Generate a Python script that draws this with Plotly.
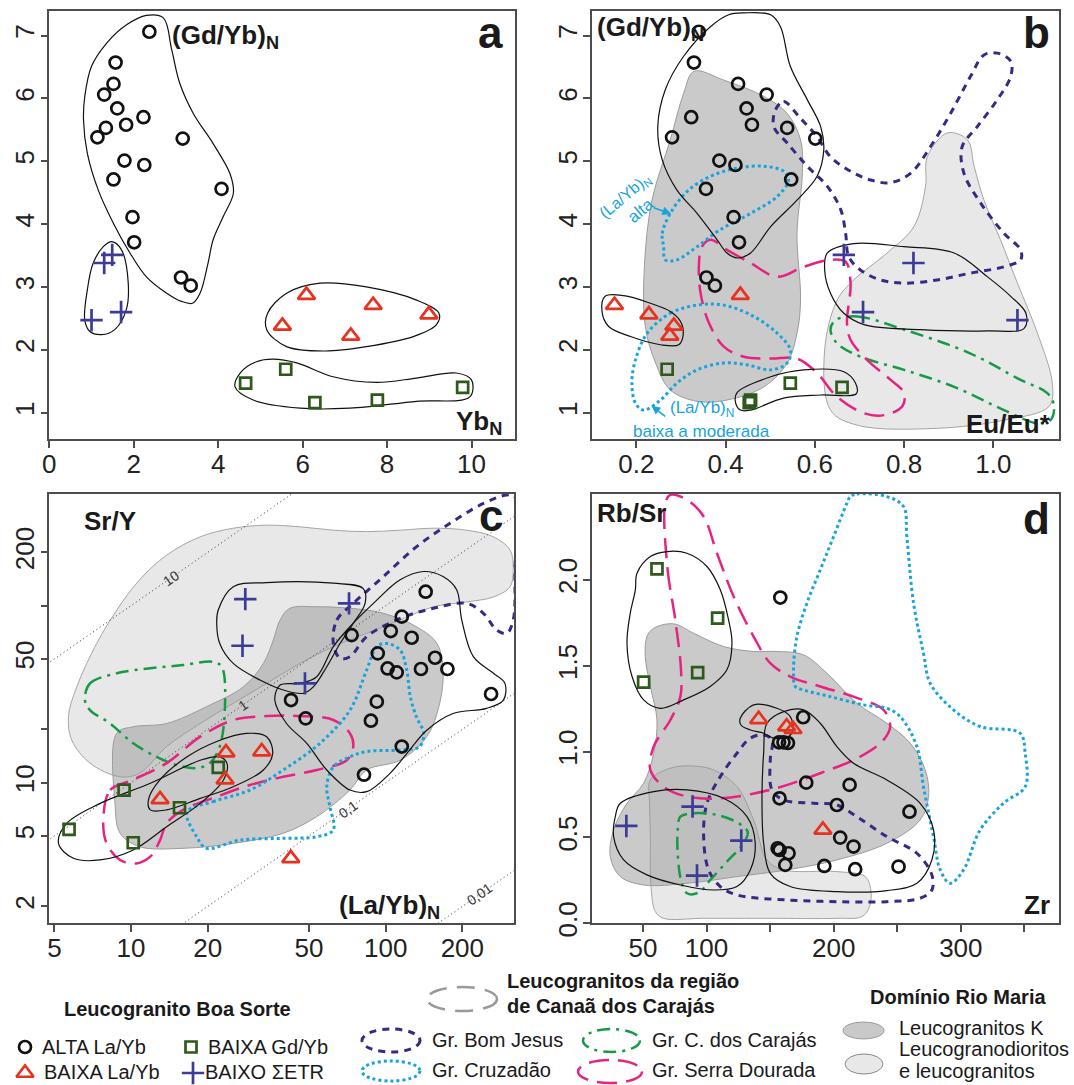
import math
import plotly.graph_objects as go

W, H = 1074, 1085
FONT = "Liberation Sans, Arial, sans-serif"

# ---------------- sample data ----------------
# (Gd/Yb)N, shared by panels a and b
GDYB_ALTA = [7.06, 6.57, 6.23, 6.06, 5.84, 5.70, 5.58, 5.53, 5.38, 5.36, 5.01, 4.94, 4.71, 4.56, 4.11, 3.71, 3.15, 3.02]
GDYB_LAYB = [2.87, 2.71, 2.56, 2.38, 2.22]
GDYB_ETR = [3.38, 3.51, 2.47, 2.60]
GDYB_GDYB = [1.47, 1.69, 1.16, 1.20, 1.40]

# panel a: YbN
YBN_ALTA = [2.37, 1.57, 1.52, 1.30, 1.61, 2.23, 1.82, 1.34, 1.14, 3.16, 1.78, 2.25, 1.52, 4.08, 1.97, 2.01, 3.12, 3.35]
YBN_LAYB = [6.09, 7.67, 8.99, 5.52, 7.14]
YBN_ETR = [1.30, 1.49, 1.00, 1.70]
YBN_GDYB = [4.65, 5.60, 6.29, 7.77, 9.79]

# panel b: Eu/Eu*
EU_ALTA = [0.340, 0.329, 0.428, 0.492, 0.447, 0.323, 0.459, 0.538, 0.280, 0.601, 0.386, 0.422, 0.547, 0.356, 0.418, 0.430, 0.357, 0.376]
EU_LAYB = [0.433, 0.151, 0.228, 0.284, 0.275]
EU_ETR = [0.821, 0.665, 1.054, 0.708]
EU_GDYB = [0.545, 0.269, 0.453, 0.456, 0.661]

# panel c: (La/Yb)N vs Sr/Y
LAYB_ALTA = [143.6, 115.7, 104.7, 126.5, 73.5, 93.1, 156.3, 101.8, 110.5, 137.6, 174.8, 259.4, 42.5, 92.3, 48.5, 87.5, 115.7, 82.2]
SRY_ALTA = [120, 86.7, 71.9, 65.9, 68.2, 53.8, 50.8, 44.2, 42.0, 43.9, 43.9, 31.7, 29.3, 28.7, 23.1, 22.4, 16.0, 11.1]
LAYB_LAYB = [23.6, 32.6, 23.4, 13.0, 42.4]
SRY_LAYB = [14.8, 15.0, 10.4, 8.05, 3.74]
LAYB_ETR = [28.1, 71.8, 27.4, 48.2]
SRY_ETR = [108.9, 103, 59.4, 36.4]
LAYB_GDYB = [5.71, 9.39, 10.2, 15.5, 22.0]
SRY_GDYB = [5.45, 9.09, 4.58, 7.22, 12.2]
RATIO_LINES = [10, 1, 0.1, 0.01]
RATIO_LABELS = ["10", "1", "0,1", "0,01"]
RATIO_LABEL_X = [14.4, 27.6, 71.3, 234]

# panel d: Zr vs Rb/Sr
ZR_ALTA = [158.0, 176.0, 157.0, 160.5, 164.0, 178.4, 212.5, 157.4, 202.5, 259.6, 205.1, 215.6, 155.9, 157.4, 164.5, 161.9, 192.6, 216.9, 251.0]
RBSR_ALTA = [1.897, 1.20, 1.054, 1.054, 1.05, 0.819, 0.806, 0.728, 0.689, 0.650, 0.499, 0.447, 0.437, 0.427, 0.408, 0.340, 0.334, 0.315, 0.330]
ZR_LAYB = [141.0, 163.0, 168.0, 191.5]
RBSR_LAYB = [1.188, 1.145, 1.130, 0.544]
ZR_ETR = [36.9, 89.0, 127.3, 92.5]
RBSR_ETR = [0.567, 0.680, 0.482, 0.278]
ZR_GDYB = [61.0, 108.7, 93.0, 50.5]
RBSR_GDYB = [2.064, 1.777, 1.460, 1.404]

# ---------------- field outlines (data units) ----------------
A_ENV_ALTA = [(2.30, 7.32), (2.70, 7.28), (2.90, 6.77), (3.09, 6.24), (3.41, 5.76), (3.88, 5.28), (4.28, 4.80), (4.36, 4.49), (4.12, 4.12), (3.88, 3.75), (3.76, 3.38), (3.57, 2.90), (3.39, 2.74), (3.13, 2.77), (2.78, 2.90), (2.30, 3.16), (1.91, 3.54), (1.52, 4.01), (1.16, 4.54), (0.90, 5.13), (0.81, 5.66), (0.84, 6.03), (1.00, 6.51), (1.36, 6.88), (1.83, 7.17)]
A_ENV_ETR = [(1.48, 3.72), (1.71, 3.59), (1.87, 3.06), (1.82, 2.63), (1.55, 2.32), (1.24, 2.24), (0.96, 2.29), (0.84, 2.47), (0.90, 2.95), (1.04, 3.38), (1.28, 3.64)]
A_ENV_LAYB = [(6.41, 3.06), (7.51, 3.00), (8.70, 2.79), (9.23, 2.58), (9.17, 2.40), (8.62, 2.21), (7.51, 2.05), (6.53, 1.98), (5.62, 2.05), (5.15, 2.32), (5.17, 2.58), (5.62, 2.90)]
A_ENV_GDYB = [(5.30, 1.85), (5.86, 1.79), (6.72, 1.57), (7.75, 1.48), (8.70, 1.55), (9.64, 1.63), (10.00, 1.52), (9.96, 1.25), (8.70, 1.18), (7.12, 1.07), (5.94, 1.07), (4.83, 1.20), (4.40, 1.41), (4.52, 1.63), (4.91, 1.81)]

B_K = [(0.329, 6.43), (0.396, 6.29), (0.486, 6.03), (0.538, 5.76), (0.568, 5.34), (0.572, 4.81), (0.560, 3.85), (0.568, 2.79), (0.560, 2.26), (0.538, 1.79), (0.486, 1.41), (0.403, 1.20), (0.336, 1.18), (0.276, 1.36), (0.243, 1.79), (0.220, 2.37), (0.218, 3.32), (0.235, 4.38), (0.276, 5.34), (0.306, 6.08)]
B_LGD = [(0.852, 5.07), (0.897, 5.45), (0.942, 5.34), (0.957, 4.92), (0.979, 4.38), (1.016, 3.75), (1.054, 3.06), (1.099, 2.26), (1.132, 1.47), (1.125, 1.10), (1.024, 0.88), (0.874, 0.75), (0.695, 0.80), (0.635, 1.04), (0.622, 2.00), (0.650, 2.79), (0.687, 3.11), (0.762, 3.54), (0.822, 3.96), (0.848, 4.60)]
B_ENV_ALTA = [(0.441, 7.36), (0.501, 7.33), (0.523, 7.14), (0.545, 6.51), (0.583, 5.98), (0.613, 5.55), (0.620, 5.18), (0.605, 4.76), (0.560, 4.38), (0.501, 3.96), (0.456, 3.54), (0.426, 3.46), (0.403, 3.54), (0.381, 3.75), (0.336, 4.17), (0.291, 4.54), (0.258, 5.02), (0.248, 5.55), (0.265, 6.14), (0.306, 6.67), (0.366, 7.14), (0.407, 7.33)]
B_ENV_LAYB = [(0.130, 2.85), (0.172, 2.86), (0.231, 2.74), (0.276, 2.61), (0.299, 2.45), (0.305, 2.24), (0.295, 2.08), (0.254, 2.08), (0.187, 2.21), (0.138, 2.37), (0.123, 2.61)]
B_ENV_ETR = [(0.628, 3.54), (0.687, 3.69), (0.800, 3.64), (0.912, 3.54), (0.987, 3.16), (1.039, 2.85), (1.073, 2.58), (1.069, 2.34), (0.987, 2.30), (0.837, 2.32), (0.710, 2.40), (0.665, 2.58), (0.635, 2.90), (0.622, 3.27)]
B_ENV_GDYB = [(0.426, 1.32), (0.501, 1.57), (0.575, 1.68), (0.665, 1.65), (0.691, 1.47), (0.693, 1.30), (0.613, 1.28), (0.530, 1.23), (0.456, 1.04), (0.433, 1.04), (0.422, 1.17)]
B_BJ = [(0.512, 5.82), (0.530, 5.95), (0.568, 5.68), (0.605, 5.39), (0.635, 5.07), (0.680, 4.84), (0.725, 4.70), (0.770, 4.66), (0.815, 4.81), (0.859, 5.23), (0.904, 5.76), (0.949, 6.35), (0.979, 6.69), (1.009, 6.72), (1.039, 6.59), (1.039, 6.35), (1.009, 5.98), (0.964, 5.55), (0.930, 5.23), (0.934, 4.81), (0.972, 4.33), (1.024, 3.85), (1.061, 3.59), (1.061, 3.43), (1.024, 3.32), (0.949, 3.22), (0.874, 3.11), (0.800, 3.06), (0.747, 3.11), (0.702, 3.27), (0.676, 3.48), (0.669, 3.85), (0.658, 4.23), (0.628, 4.60), (0.583, 4.92), (0.538, 5.29), (0.508, 5.55)]
B_CRZ_ALTA = [(0.261, 3.64), (0.258, 3.85), (0.276, 4.17), (0.314, 4.52), (0.366, 4.76), (0.426, 4.89), (0.486, 4.92), (0.530, 4.84), (0.541, 4.70), (0.516, 4.44), (0.456, 4.17), (0.388, 3.91), (0.336, 3.64), (0.291, 3.43), (0.265, 3.43)]
B_CRZ_BAIXA = [(0.224, 2.26), (0.276, 2.58), (0.336, 2.71), (0.396, 2.71), (0.463, 2.53), (0.516, 2.26), (0.545, 2.00), (0.538, 1.79), (0.501, 1.68), (0.448, 1.76), (0.396, 1.79), (0.336, 1.68), (0.291, 1.47), (0.254, 1.20), (0.216, 1.04), (0.198, 1.15), (0.190, 1.47), (0.198, 1.84)]
B_SD = [(0.366, 3.75), (0.403, 3.59), (0.456, 3.38), (0.516, 3.16), (0.575, 3.32), (0.635, 3.43), (0.669, 3.40), (0.680, 3.06), (0.672, 2.42), (0.680, 2.16), (0.717, 1.84), (0.770, 1.52), (0.800, 1.31), (0.796, 1.10), (0.755, 0.96), (0.710, 0.99), (0.650, 1.25), (0.605, 1.63), (0.560, 1.86), (0.501, 1.86), (0.441, 1.89), (0.396, 2.05), (0.363, 2.42), (0.344, 2.90), (0.340, 3.32), (0.347, 3.64)]
B_CC = [(0.646, 2.47), (0.695, 2.53), (0.800, 2.32), (0.949, 1.94), (1.061, 1.52), (1.121, 1.31), (1.136, 1.10), (1.128, 0.88), (1.099, 0.83), (1.024, 1.04), (0.912, 1.41), (0.800, 1.68), (0.702, 1.89), (0.650, 2.10), (0.635, 2.32)]

C_LGD = [(5.68, 23.6), (6.12, 34.8), (7.33, 61.2), (8.79, 94.5), (10.8, 140), (13.8, 193), (18.7, 245), (25.2, 274), (34.1, 285), (46.1, 279), (62.3, 267), (84.2, 262), (114, 267), (154, 274), (208, 267), (265, 245), (308, 206), (317, 159), (308, 128), (265, 112), (208, 105), (154, 98.6), (114, 83.0), (84.2, 69.8), (62.3, 58.7), (46.1, 47.2), (34.1, 36.4), (25.2, 28.1), (18.7, 21.6), (13.8, 16.0), (10.8, 11.3), (9.06, 10.8), (6.90, 12.9), (5.85, 17.4)]
C_K = [(8.65, 7.64), (9.06, 5.18), (10.8, 4.35), (16.0, 4.26), (25.2, 4.54), (39.6, 5.18), (53.6, 6.43), (72.4, 9.09), (84.2, 11.8), (114, 13.4), (145, 18.2), (163, 28.1), (168, 43.3), (159, 61.2), (132, 76.1), (97.9, 90.6), (72.4, 96.7), (53.6, 98.6), (42.1, 96.7), (38.5, 83.0), (36.2, 64.0), (33.1, 47.2), (27.6, 34.8), (19.8, 26.9), (13.8, 21.6), (10.2, 20.7), (8.78, 19.0)]
C_ENV_ETR = [(22.0, 94.5), (25.2, 128), (34.1, 135), (62.3, 134), (81.6, 125), (83.0, 103), (74.6, 79.4), (66.2, 61.2), (58.7, 45.2), (52.0, 34.8), (47.5, 32.0), (39.6, 33.4), (32.1, 38.0), (25.2, 47.2), (22.3, 61.2), (21.7, 79.4)]
C_ENV_ALTA = [(141, 156), (168, 146), (190, 123), (199, 83.0), (221, 51.5), (265, 41.5), (294, 36.4), (290, 29.3), (249, 26.3), (184, 24.6), (145, 19.8), (121, 14.6), (104, 11.3), (84.2, 8.9), (72.4, 9.09), (58.7, 11.8), (49.0, 16.7), (40.8, 21.6), (36.7, 29.3), (38.5, 35.6), (46.1, 36.4), (53.6, 39.7), (62.3, 58.7), (72.4, 76.1), (89.5, 103), (114, 140)]
C_ENV_GDYB = [(5.19, 4.54), (5.59, 5.89), (7.56, 7.64), (11.9, 9.92), (18.7, 13.4), (22.3, 14.0), (23.8, 12.9), (23.1, 10.4), (18.7, 7.64), (13.8, 5.64), (10.2, 4.17), (7.56, 3.66), (5.94, 3.74)]
C_ENV_LAYB = [(11.7, 7.98), (13.0, 10.4), (16.6, 14.0), (21.7, 17.1), (28.4, 19.0), (34.1, 18.2), (36.0, 14.6), (33.1, 11.8), (25.2, 9.49), (18.7, 8.15), (13.8, 7.02), (11.9, 7.02)]
C_SD = [(7.78, 6.15), (8.28, 9.09), (10.2, 10.4), (13.8, 12.9), (18.7, 18.2), (25.2, 22.6), (34.1, 23.8), (46.1, 23.8), (62.3, 22.6), (72.4, 19.0), (74.6, 16.0), (70.3, 13.4), (53.6, 11.8), (39.6, 10.8), (29.3, 9.70), (21.7, 8.34), (16.0, 7.02), (13.8, 5.89), (13.0, 4.74), (11.9, 3.82), (10.5, 3.50), (9.06, 3.66), (8.02, 4.54)]
C_CRZ = [(16.6, 6.85), (21.0, 7.82), (29.3, 9.09), (39.6, 11.8), (55.2, 16.7), (72.4, 25.7), (84.2, 43.3), (92.3, 58.7), (101, 61.2), (114, 56.1), (121, 43.3), (125, 30.6), (132, 23.6), (141, 19.0), (136, 16.0), (114, 15.3), (84.2, 15.0), (72.4, 14.0), (62.3, 12.3), (58.7, 9.49), (60.4, 7.31), (62.3, 5.41), (53.6, 4.95), (39.6, 4.85), (26.8, 4.74), (19.8, 4.26), (18.1, 4.95)]
C_CC = [(6.59, 29.3), (6.90, 36.4), (8.78, 41.5), (11.9, 44.3), (16.0, 46.2), (21.0, 48.2), (22.7, 45.2), (23.4, 28.1), (22.3, 16.0), (20.4, 12.9), (18.1, 12.1), (15.1, 12.6), (12.6, 14.0), (10.2, 16.7), (8.28, 21.6), (6.90, 25.7)]
C_BJ = [(62.3, 61.2), (64.3, 83.0), (74.6, 103), (97.9, 146), (132, 215), (179, 292), (242, 378), (299, 422), (322, 412), (322, 159), (317, 83.0), (299, 69.8), (273, 72.8), (242, 90.6), (208, 103), (154, 96.7), (114, 84.7), (84.2, 66.8), (72.4, 51.5), (66.2, 50.4)]

D_K = [(53.1, 1.670), (58.4, 1.718), (74.1, 1.744), (89.8, 1.689), (113.4, 1.612), (137.0, 1.583), (155.3, 1.583), (176.3, 1.563), (194.7, 1.456), (218.2, 1.282), (241.8, 1.165), (260.2, 1.049), (272.0, 0.893), (274.6, 0.738), (268.0, 0.602), (241.8, 0.466), (202.5, 0.369), (163.2, 0.311), (123.9, 0.272), (84.6, 0.233), (50.5, 0.223), (32.2, 0.272), (24.3, 0.388), (26.9, 0.544), (37.4, 0.699), (50.5, 0.816), (58.4, 0.990), (61.0, 1.184), (55.8, 1.379), (51.8, 1.553)]
D_LGD = [(55.8, 0.835), (71.5, 0.903), (87.2, 0.917), (105.6, 0.893), (123.9, 0.796), (137.0, 0.602), (147.5, 0.369), (160.6, 0.311), (202.5, 0.301), (224.8, 0.272), (229.2, 0.194), (228.2, 0.097), (222.2, 0.039), (202.5, 0.029), (150.1, 0.029), (97.7, 0.029), (66.2, 0.029), (59.7, 0.068), (56.3, 0.214), (55.8, 0.505), (55.2, 0.699)]
D_ENV_GDYB = [(45.3, 2.039), (55.8, 2.136), (68.9, 2.165), (84.6, 2.155), (100.3, 2.078), (110.8, 1.942), (117.3, 1.767), (120.0, 1.631), (116.0, 1.476), (102.9, 1.379), (82.0, 1.301), (63.6, 1.252), (50.5, 1.301), (41.4, 1.437), (37.4, 1.631), (40.0, 1.806), (44.0, 1.942)]
D_ENV_ETR = [(32.2, 0.699), (58.4, 0.767), (84.6, 0.777), (113.4, 0.728), (131.8, 0.621), (138.3, 0.466), (134.4, 0.311), (123.9, 0.214), (105.6, 0.194), (79.4, 0.223), (53.1, 0.282), (34.8, 0.369), (26.9, 0.505), (28.2, 0.621)]
D_ENV_LAYB = [(126.5, 1.194), (137.0, 1.272), (155.3, 1.252), (165.8, 1.204), (167.9, 1.126), (164.5, 1.087), (152.7, 1.078), (144.9, 1.107), (134.4, 1.126), (127.0, 1.155)]
D_ENV_ALTA = [(147.5, 1.165), (160.6, 1.233), (176.3, 1.243), (189.4, 1.165), (202.5, 1.029), (215.6, 0.932), (241.8, 0.835), (268.0, 0.699), (278.5, 0.544), (277.2, 0.369), (265.4, 0.233), (241.8, 0.190), (202.5, 0.184), (165.8, 0.214), (150.1, 0.291), (144.9, 0.466), (143.6, 0.738), (144.9, 0.990)]
D_SD = [(67.6, 2.447), (69.4, 2.058), (75.4, 1.767), (79.9, 1.476), (79.4, 1.320), (71.5, 1.184), (58.4, 1.029), (55.8, 0.893), (66.2, 0.796), (84.6, 0.738), (110.8, 0.728), (150.1, 0.777), (189.4, 0.874), (220.9, 0.971), (239.2, 1.068), (244.4, 1.146), (239.2, 1.243), (215.6, 1.320), (189.4, 1.379), (165.8, 1.437), (150.1, 1.515), (137.0, 1.670), (121.3, 1.903), (108.2, 2.155), (97.7, 2.369), (84.6, 2.466), (71.5, 2.495)]
D_CRZ = [(213.0, 2.485), (218.2, 2.50), (241.8, 2.485), (254.9, 2.427), (257.5, 2.252), (262.8, 1.864), (270.6, 1.573), (275.9, 1.398), (294.2, 1.243), (315.2, 1.146), (346.6, 1.107), (350.6, 0.990), (350.6, 0.796), (333.5, 0.699), (315.2, 0.544), (302.1, 0.311), (291.6, 0.233), (283.8, 0.311), (278.5, 0.505), (270.6, 0.796), (265.4, 1.029), (252.3, 1.204), (241.8, 1.252), (223.5, 1.272), (197.3, 1.320), (176.3, 1.359), (169.8, 1.379), (168.4, 1.476), (171.1, 1.670), (178.9, 1.864), (189.4, 2.058), (199.9, 2.252), (210.4, 2.447)]
D_BJ = [(134.4, 1.078), (144.9, 1.097), (151.4, 1.068), (150.1, 0.951), (151.4, 0.777), (160.6, 0.718), (184.2, 0.699), (202.5, 0.689), (218.2, 0.621), (241.8, 0.505), (265.4, 0.408), (277.2, 0.282), (277.2, 0.194), (268.0, 0.146), (241.8, 0.126), (202.5, 0.126), (163.2, 0.136), (123.9, 0.165), (110.8, 0.214), (101.6, 0.311), (97.7, 0.505), (100.3, 0.699), (110.8, 0.854), (123.9, 0.990)]
D_CC = [(79.4, 0.621), (89.8, 0.641), (108.2, 0.631), (125.2, 0.583), (132.3, 0.534), (129.1, 0.466), (116.0, 0.359), (102.9, 0.252), (93.8, 0.179), (84.6, 0.175), (79.9, 0.252), (77.3, 0.408), (77.3, 0.544)]

# ---------------- styles ----------------
COL_ALTA = "#111111"
COL_LAYB = "#e8321e"
COL_GDYB = "#2d5a1b"
COL_ETR = "#3c3c96"
COL_BJ = "#3b2784"
COL_CRZ = "#19a3dd"
COL_SD = "#e6247f"
COL_CC = "#179a45"
K_FILL = "rgba(150,150,150,0.5)"
K_LINE = "#9b9b9b"
LGD_FILL = "#e8e8e8"
LGD_LINE = "#a5a5a5"
DASH_BJ = "7px,6px"
DASH_CRZ = "3px,3px"
DASH_SD = "20px,9px"
DASH_CC = "13px,6px,3px,6px"

fig = go.Figure()


def add_field(pts, ax, color, width=1.2, dash="solid", fillcolor=None):
    xs = [p[0] for p in pts] + [pts[0][0]]
    ys = [p[1] for p in pts] + [pts[0][1]]
    fig.add_trace(go.Scatter(
        x=xs, y=ys, xaxis="x" + ax, yaxis="y" + ax, mode="lines",
        line=dict(color=color, width=width, dash=dash, shape="spline", smoothing=1.0),
        fill="toself" if fillcolor else "none", fillcolor=fillcolor,
        hoverinfo="skip", showlegend=False))


def add_pts(xs, ys, ax, sym, color, size, lw=2.7):
    fig.add_trace(go.Scatter(
        x=xs, y=ys, xaxis="x" + ax, yaxis="y" + ax, mode="markers",
        marker=dict(symbol=sym, size=size, color=color, line=dict(color=color, width=lw)),
        hoverinfo="skip", showlegend=False))


def add_groups(ax, xa, ya, xl, yl, xe, ye, xg, yg):
    add_pts(xa, ya, ax, "circle-open", COL_ALTA, 12)
    add_pts(xg, yg, ax, "square-open", COL_GDYB, 11)
    add_pts(xl, yl, ax, "triangle-up-open", COL_LAYB, 15)
    add_pts(xe, ye, ax, "cross-thin", COL_ETR, 16)


# panel a
for f in (A_ENV_ALTA, A_ENV_ETR, A_ENV_LAYB, A_ENV_GDYB):
    add_field(f, "", "#111111")
add_groups("", YBN_ALTA, GDYB_ALTA, YBN_LAYB, GDYB_LAYB, YBN_ETR, GDYB_ETR, YBN_GDYB, GDYB_GDYB)

# panel b
add_field(B_LGD, "2", LGD_LINE, 1.0, fillcolor=LGD_FILL)
add_field(B_K, "2", K_LINE, 1.0, fillcolor=K_FILL)
add_field(B_BJ, "2", COL_BJ, 3, DASH_BJ)
add_field(B_CC, "2", COL_CC, 2.5, DASH_CC)
add_field(B_SD, "2", COL_SD, 2.5, DASH_SD)
add_field(B_CRZ_ALTA, "2", COL_CRZ, 3, DASH_CRZ)
add_field(B_CRZ_BAIXA, "2", COL_CRZ, 3, DASH_CRZ)
for f in (B_ENV_ALTA, B_ENV_LAYB, B_ENV_ETR, B_ENV_GDYB):
    add_field(f, "2", "#111111")
add_groups("2", EU_ALTA, GDYB_ALTA, EU_LAYB, GDYB_LAYB, EU_ETR, GDYB_ETR, EU_GDYB, GDYB_GDYB)

# panel c
add_field(C_LGD, "3", LGD_LINE, 1.0, fillcolor=LGD_FILL)
add_field(C_K, "3", K_LINE, 1.0, fillcolor=K_FILL)
for k in RATIO_LINES:
    fig.add_trace(go.Scatter(x=[3, 500], y=[3 * k, 500 * k], xaxis="x3", yaxis="y3", mode="lines",
                             line=dict(color="#333333", width=1, dash="1px,3px"),
                             hoverinfo="skip", showlegend=False))
add_field(C_BJ, "3", COL_BJ, 3, DASH_BJ)
add_field(C_CC, "3", COL_CC, 2.5, DASH_CC)
add_field(C_SD, "3", COL_SD, 2.5, DASH_SD)
add_field(C_CRZ, "3", COL_CRZ, 3, DASH_CRZ)
for f in (C_ENV_ALTA, C_ENV_ETR, C_ENV_GDYB, C_ENV_LAYB):
    add_field(f, "3", "#111111")
add_groups("3", LAYB_ALTA, SRY_ALTA, LAYB_LAYB, SRY_LAYB, LAYB_ETR, SRY_ETR, LAYB_GDYB, SRY_GDYB)

# panel d
add_field(D_LGD, "4", LGD_LINE, 1.0, fillcolor=LGD_FILL)
add_field(D_K, "4", K_LINE, 1.0, fillcolor=K_FILL)
add_field(D_BJ, "4", COL_BJ, 3, DASH_BJ)
add_field(D_CC, "4", COL_CC, 2.5, DASH_CC)
add_field(D_SD, "4", COL_SD, 2.5, DASH_SD)
add_field(D_CRZ, "4", COL_CRZ, 3, DASH_CRZ)
for f in (D_ENV_ALTA, D_ENV_ETR, D_ENV_GDYB, D_ENV_LAYB):
    add_field(f, "4", "#111111")
add_groups("4", ZR_ALTA, RBSR_ALTA, ZR_LAYB, RBSR_LAYB, ZR_ETR, RBSR_ETR, ZR_GDYB, RBSR_GDYB)

# legend symbols (overlay axes in pixel units)
LEG_SYM = [("circle-open", COL_ALTA, 12, 25, 1047), ("square-open", COL_GDYB, 11, 191, 1047),
           ("triangle-up-open", COL_LAYB, 15, 25, 1073), ("cross-thin", COL_ETR, 16, 193, 1073)]
for sym, col, sz, lx, ly in LEG_SYM:
    fig.add_trace(go.Scatter(x=[lx], y=[ly], xaxis="x5", yaxis="y5", mode="markers",
                             marker=dict(symbol=sym, size=sz, color=col, line=dict(color=col, width=2.7)),
                             hoverinfo="skip", showlegend=False, cliponaxis=False))


def px_dom_x(a, b):
    return [a / W, b / W]


def px_dom_y(top, bot):
    return [(H - bot) / H, (H - top) / H]


def axis_style(**kw):
    d = dict(showline=True, linecolor="#4d4d4d", linewidth=1.5, mirror=True, ticks="outside",
             ticklen=7, tickwidth=1.5, tickcolor="#4d4d4d", showgrid=False, zeroline=False,
             automargin=False, tickfont=dict(family=FONT, size=26, color="#222222"), fixedrange=True)
    d.update(kw)
    return d


yt_gd = [1, 2, 3, 4, 5, 6, 7]
XS = -6
YS = -4
layout = dict(
    template="none",
    width=W, height=H, margin=dict(l=0, r=0, t=0, b=0, autoexpand=False),
    paper_bgcolor="white", plot_bgcolor="rgba(0,0,0,0)", showlegend=False,
    xaxis=axis_style(domain=px_dom_x(49.3, 515), range=[0, 11.03], tickvals=[0, 2, 4, 6, 8, 10],
                     ticklabelstandoff=XS, anchor="y"),
    yaxis=axis_style(domain=px_dom_y(11, 439), range=[0.58, 7.39], tickvals=yt_gd, tickangle=-90,
                     ticklabelstandoff=YS, anchor="x"),
    xaxis2=axis_style(domain=px_dom_x(592, 1058.5), range=[0.1006, 1.146], tickvals=[0.2, 0.4, 0.6, 0.8, 1.0],
                      ticktext=["0.2", "0.4", "0.6", "0.8", "1.0"], ticklabelstandoff=XS, anchor="y2"),
    yaxis2=axis_style(domain=px_dom_y(11, 439), range=[0.58, 7.39], tickvals=yt_gd, tickangle=-90,
                      ticklabelstandoff=YS, anchor="x2"),
    xaxis3=axis_style(type="log", domain=px_dom_x(49.3, 514), range=[0.679, 2.504],
                      tickvals=[5, 10, 20, 50, 100, 200], ticktext=["5", "10", "20", "50", "100", "200"],
                      ticklabelstandoff=XS, anchor="y3"),
    yaxis3=axis_style(type="log", domain=px_dom_y(494, 923.3), range=[0.2057, 2.631],
                      tickvals=[2, 5, 10, 20, 50, 100, 200], ticktext=["2", "5", "10", "", "50", "", "200"],
                      tickangle=-90, ticklabelstandoff=YS, anchor="x3"),
    xaxis4=axis_style(domain=px_dom_x(592, 1058.5), range=[9.9, 376.8], tickvals=[50, 100, 150, 200, 250, 300, 350],
                      ticktext=["50", "100", "", "200", "", "300", ""], ticklabelstandoff=XS, anchor="y4"),
    yaxis4=axis_style(domain=px_dom_y(494, 923.3), range=[0, 2.5], tickvals=[0, 0.5, 1, 1.5, 2],
                      ticktext=["0.0", "0.5", "1.0", "1.5", "2.0"], tickangle=-90, ticklabelstandoff=YS,
                      anchor="x4"),
    xaxis5=dict(domain=[0, 1], range=[0, W], visible=False, anchor="y5", fixedrange=True, automargin=False),
    yaxis5=dict(domain=[0, 1], range=[H, 0], visible=False, anchor="x5", fixedrange=True, automargin=False),
)
fig.update_layout(**layout)

ann = []


def txt(x, y, text, size=20, color="#1a1a1a", xanchor="left", bold=False, xref="x5", yref="y5", angle=0):
    if bold:
        text = "<b>" + text + "</b>"
    ann.append(dict(x=x, y=y, xref=xref, yref=yref, text=text, showarrow=False, xanchor=xanchor,
                    yanchor="middle", textangle=angle, font=dict(family=FONT, size=size, color=color)))


# panel titles
txt(170, 36, "(Gd/Yb)<sub>N</sub>", 26, bold=True)
txt(504, 422, "Yb<sub>N</sub>", 26, xanchor="right", bold=True)
txt(505, 32, "a", 44, xanchor="right", bold=True)
txt(595, 28, "(Gd/Yb)<sub>N</sub>", 26, bold=True)
txt(1053, 424, "Eu/Eu*", 26, xanchor="right", bold=True)
txt(1052, 32, "b", 44, xanchor="right", bold=True)
txt(82, 521, "Sr/Y", 26, bold=True)
txt(442, 906, "(La/Yb)<sub>N</sub>", 26, xanchor="right", bold=True)
txt(505, 515, "c", 44, xanchor="right", bold=True)
txt(595, 513, "Rb/Sr", 26, bold=True)
txt(1052, 905, "Zr", 26, xanchor="right", bold=True)
txt(1052, 518, "d", 44, xanchor="right", bold=True)

# ratio line labels (log axes -> log10 positions)
for k, lab, lx in zip(RATIO_LINES, RATIO_LABELS, RATIO_LABEL_X):
    ann.append(dict(x=math.log10(lx), y=math.log10(lx * k), xref="x3", yref="y3", text=lab, showarrow=False,
                    textangle=-35, font=dict(family=FONT, size=14, color="#333333")))

# cyan notes in panel b
txt(0.175, 4.44, "(La/Yb)<sub>N</sub>", 16, COL_CRZ, "center", xref="x2", yref="y2", angle=-40)
txt(0.210, 4.21, "alta", 17, COL_CRZ, "center", xref="x2", yref="y2", angle=-40)
txt(0.347, 1.05, "(La/Yb)<sub>N</sub>", 17, COL_CRZ, "center", xref="x2", yref="y2")
txt(0.347, 0.70, "baixa a moderada", 17, COL_CRZ, "center", xref="x2", yref="y2")
for hx, hy, tx, ty in [(0.278, 4.16, 0.236, 4.27), (0.234, 1.11, 0.268, 0.92)]:
    ann.append(dict(x=hx, y=hy, ax=tx, ay=ty, xref="x2", yref="y2", axref="x2", ayref="y2", text="",
                    showarrow=True, arrowhead=2, arrowsize=1.1, arrowwidth=1.6, arrowcolor=COL_CRZ))

# legend texts
txt(177, 1009, "Leucogranito Boa Sorte", 20, xanchor="center", bold=True)
txt(40, 1047, "ALTA La/Yb", 20)
txt(206, 1047, "BAIXA Gd/Yb", 20)
txt(42, 1072, "BAIXA La/Yb", 20)
txt(203, 1072, "BAIXO ΣETR", 20)
txt(505, 981, "Leucogranitos da região", 20, bold=True)
txt(505, 1006, "de Canaã dos Carajás", 20, bold=True)
txt(430, 1040, "Gr. Bom Jesus", 20)
txt(430, 1070, "Gr. Cruzadão", 20)
txt(650, 1040, "Gr. C. dos Carajás", 20)
txt(650, 1070, "Gr. Serra Dourada", 20)
txt(958, 997, "Domínio Rio Maria", 20, xanchor="center", bold=True)
txt(897, 1028, "Leucogranitos K", 20)
txt(897, 1049, "Leucogranodioritos", 20)
txt(897, 1071, "e leucogranitos", 20)
fig.update_layout(annotations=ann)

# legend icons
shapes = [
    dict(type="circle", x0=427, x1=497, y0=987, y1=1011, line=dict(color="#999999", width=2.5, dash="18px,10px")),
    dict(type="circle", x0=362, x1=420, y0=1029, y1=1052, line=dict(color=COL_BJ, width=3, dash=DASH_BJ)),
    dict(type="circle", x0=362, x1=420, y0=1061, y1=1081, line=dict(color=COL_CRZ, width=3, dash=DASH_CRZ)),
    dict(type="circle", x0=583, x1=640, y0=1029, y1=1052, line=dict(color=COL_CC, width=2.5, dash=DASH_CC)),
    dict(type="circle", x0=578, x1=642, y0=1060, y1=1083, line=dict(color=COL_SD, width=2.5, dash=DASH_SD)),
    dict(type="circle", x0=843, x1=884, y0=1022, y1=1039, fillcolor="#c9c9c9", line=dict(color=K_LINE, width=1)),
    dict(type="circle", x0=845, x1=883, y0=1054, y1=1074, fillcolor=LGD_FILL, line=dict(color="#888888", width=1)),
]
for s in shapes:
    s.update(xref="x5", yref="y5", layer="above")
fig.update_layout(shapes=shapes)

fig.write_html("out.html")
